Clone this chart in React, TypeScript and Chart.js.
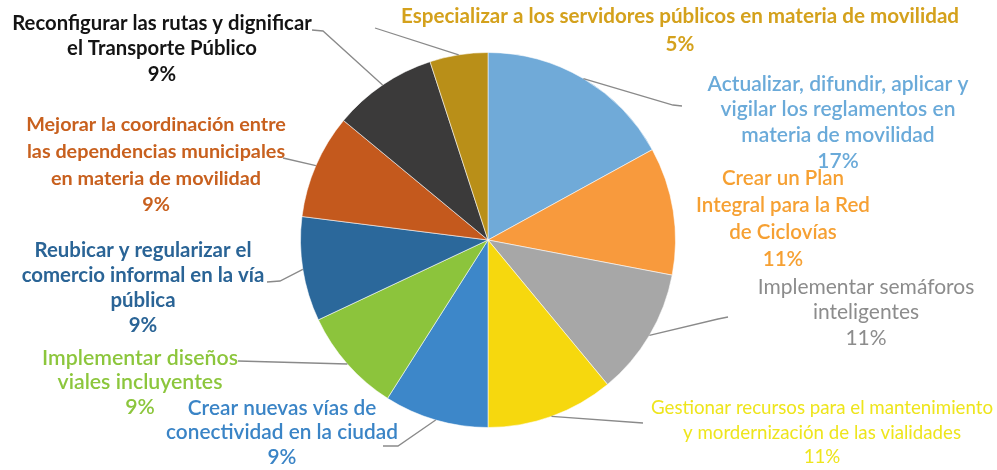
import React, { useEffect, useRef } from "react";
import { Chart, registerables } from "chart.js";

Chart.register(...registerables);

// ---- Data ----
const categories: string[][] = [
  ["Actualizar, difundir, aplicar y", "vigilar los reglamentos en", "materia de movilidad"],
  ["Crear un Plan", "Integral para la Red", "de Ciclovías"],
  ["Implementar semáforos", "inteligentes"],
  ["Gestionar recursos para el mantenimiento", "y mordernización de las vialidades"],
  ["Crear nuevas vías de", "conectividad en la ciudad"],
  ["Implementar diseños", "viales incluyentes"],
  ["Reubicar y regularizar el", "comercio informal en la vía", "pública"],
  ["Mejorar la coordinación entre", "las dependencias municipales", "en materia de movilidad"],
  ["Reconfigurar las rutas y dignificar", "el Transporte Público"],
  ["Especializar a los servidores públicos en materia de movilidad"],
];
const values: number[] = [17, 11, 11, 11, 9, 9, 9, 9, 9, 5];

// ---- Styles ----
const sliceColors = [
  "#70aad8", "#f89a3d", "#a7a7a7", "#f6d80e", "#3d87c9",
  "#8cc43c", "#2b689b", "#c4591d", "#3b3a3a", "#b98f18",
];
const textColors = [
  "#6aaad9", "#f6a032", "#8c8c8c", "#eee51c", "#3a84c6",
  "#8cc63c", "#2a6496", "#c8601e", "#141414", "#d4a11c",
];
const fontWeights = ["600", "600", "400", "400", "600", "600", "bold", "bold", "bold", "bold"];
const fontSizes = [21, 20.5, 21, 18.7, 20.8, 21.3, 20.4, 19.8, 20.3, 20.6];

// label layout: center x, first line center y, line height
const labelX = [838, 783, 866, 822, 282, 140, 143, 156, 162, 680];
const labelY = [84, 178, 287, 408, 408, 358, 250, 125, 23, 16];
const lineHeights = [25.7, 27, 25.5, 24.5, 24.5, 24.5, 25.3, 26.7, 25.5, 28];
// leader lines: points on the label side (null = none); the end is on the slice edge
const leaders: (number[][] | null)[] = [
  [[682, 106], [673, 105]],
  null,
  [[728, 317], [718, 319]],
  [[643, 423]],
  [[383, 446], [398, 446]],
  [[238, 361]],
  [[267, 282], [280, 281]],
  [[283, 158]],
  [[312, 30], [323, 31]],
  [[375, 28]],
];

const labelPlugin = {
  id: "labelPlugin",
  afterDraw(chart: any) {
    const ctx = chart.ctx as CanvasRenderingContext2D;
    const meta = chart.getDatasetMeta(0);
    ctx.save();
    // leader lines
    meta.data.forEach((arc: any, i: number) => {
      const pts = leaders[i];
      if (!pts) return;
      const p = arc.getProps(["x", "y", "startAngle", "endAngle", "outerRadius"], true);
      const mid = (p.startAngle + p.endAngle) / 2;
      const ex = p.x + Math.cos(mid) * p.outerRadius;
      const ey = p.y + Math.sin(mid) * p.outerRadius;
      ctx.beginPath();
      ctx.strokeStyle = "#8a8a8a";
      ctx.lineWidth = 1.3;
      ctx.moveTo(pts[0][0], pts[0][1]);
      for (let k = 1; k < pts.length; k++) ctx.lineTo(pts[k][0], pts[k][1]);
      ctx.lineTo(ex, ey);
      ctx.stroke();
    });
    // texts
    ctx.textAlign = "center";
    ctx.textBaseline = "middle";
    categories.forEach((lines, i) => {
      const all = [...lines, `${values[i]}%`];
      ctx.fillStyle = textColors[i];
      ctx.font = `${fontWeights[i]} ${fontSizes[i]}px Lato, "Open Sans", sans-serif`;
      all.forEach((t, k) => {
        ctx.fillText(t, labelX[i], labelY[i] + k * lineHeights[i]);
      });
    });
    ctx.restore();
  },
};

export default function App() {
  const canvasRef = useRef<HTMLCanvasElement | null>(null);

  useEffect(() => {
    document.body.style.margin = "0";
    const canvas = canvasRef.current;
    if (!canvas) return;
    const chart = new Chart(canvas, {
      type: "pie",
      data: {
        labels: categories.map((l) => l.join(" ")),
        datasets: [
          {
            data: values,
            backgroundColor: sliceColors,
            borderColor: "rgba(255,255,255,0.55)",
            borderWidth: 1,
          },
        ],
      },
      options: {
        responsive: false,
        animation: false,
        layout: { padding: { left: 300, right: 321, top: 52, bottom: 42 } },
        plugins: {
          legend: { display: false },
          tooltip: { enabled: false },
          title: { display: false },
        },
      },
      plugins: [labelPlugin],
    });
    return () => chart.destroy();
  }, []);

  return (
    <div style={{ position: "fixed", left: 0, top: 0, width: 997, height: 470, background: "#ffffff" }}>
      <canvas ref={canvasRef} width={997} height={470} style={{ width: 997, height: 470 }} />
    </div>
  );
}
